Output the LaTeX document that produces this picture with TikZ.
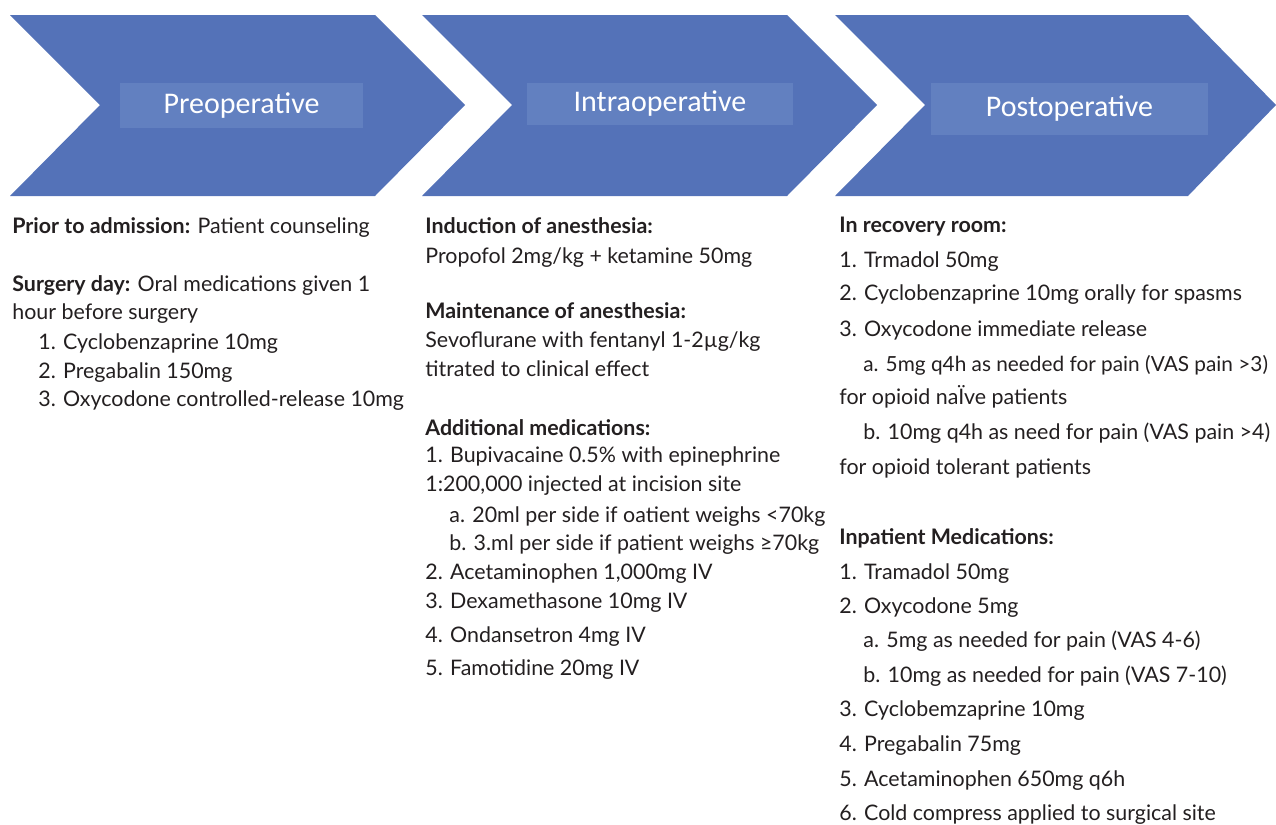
\documentclass[tikz,border=0pt]{standalone}
\usepackage{fontspec}
\usepackage{xcolor}
\usepackage{tikz}
\setmainfont{Lato}
\newfontfamily\titlefont{Carlito}

\definecolor{chevblue}{RGB}{84,114,184}
\definecolor{boxblue}{RGB}{98,128,192}
\definecolor{txtgray}{RGB}{35,31,32}

\tikzset{
  phase/.style={fill=boxblue, text=white, inner sep=0,
    font=\titlefont\fontsize{15}{18}\selectfont},
  entry/.style={anchor=base west, inner sep=0, text=txtgray,
    font=\fontsize{10.7}{13}\selectfont},
}

\begin{document}
\begin{tikzpicture}[x=0.5pt,y=-0.5pt]
    \useasboundingbox (0,0) rectangle (1276,825);
    % chevrons
    \fill[chevblue] (10,15) -- (375,15) -- (465,105) -- (375,196) -- (10,196) -- (100,105) -- cycle;
    \fill[chevblue] (422,15) -- (787,15) -- (877,105) -- (787,196) -- (422,196) -- (512,105) -- cycle;
    \fill[chevblue] (835,15) -- (1188,15) -- (1276,105) -- (1188,196) -- (835,196) -- (925,105) -- cycle;
    \node[phase, minimum width=121.5pt, minimum height=22.5pt] (pre) at (241.5,105.5) {Preoperative};
    \node[phase, minimum width=133pt, minimum height=21pt] (intra) at (660,104) {Intraoperative};
    \node[phase, minimum width=138.5pt, minimum height=26pt] (post) at (1069.5,109) {Postoperative};

    % preoperative
    \node[entry] (pre1) at (12,233) {\textbf{Prior to admission:} Patient counseling};
    \node[entry] (pre2) at (12,291) {\textbf{Surgery day:} Oral medications given 1};
    \node[entry] (pre3) at (12,319) {hour before surgery};
    \node[entry] (pre4) at (38,349) {1. Cyclobenzaprine 10mg};
    \node[entry] (pre5) at (38,378) {2. Pregabalin 150mg};
    \node[entry] (pre6) at (38,406) {3. Oxycodone controlled-release 10mg};

    % intraoperative
    \node[entry] (intra1) at (425,233) {\textbf{Induction of anesthesia:}};
    \node[entry] (intra2) at (425,263) {Propofol 2mg/kg + ketamine 50mg};
    \node[entry] (intra3) at (425,318) {\textbf{Maintenance of anesthesia:}};
    \node[entry] (intra4) at (425,347) {Sevoflurane with fentanyl 1-2µg/kg};
    \node[entry] (intra5) at (425,376) {titrated to clinical effect};
    \node[entry] (intra6) at (425,435) {\textbf{Additional medications:}};
    \node[entry] (intra7) at (425,462) {1. Bupivacaine 0.5\% with epinephrine};
    \node[entry] (intra8) at (425,491) {1:200,000 injected at incision site};
    \node[entry] (intra9) at (449,522) {a. 20ml per side if oatient weighs <70kg};
    \node[entry] (intra10) at (449,550) {b. 3.ml per side if patient weighs ≥70kg};
    \node[entry] (intra11) at (425,579) {2. Acetaminophen 1,000mg IV};
    \node[entry] (intra12) at (425,608) {3. Dexamethasone 10mg IV};
    \node[entry] (intra13) at (425,642) {4. Ondansetron 4mg IV};
    \node[entry] (intra14) at (425,675) {5. Famotidine 20mg IV};

    % postoperative
    \node[entry] (post1) at (839,232) {\textbf{In recovery room:}};
    \node[entry] (post2) at (839,267) {1. Trmadol 50mg};
    \node[entry] (post3) at (839,300) {2. Cyclobenzaprine 10mg orally for spasms};
    \node[entry] (post4) at (839,336) {3. Oxycodone immediate release};
    \node[entry, font=\fontsize{10.4}{13}\selectfont] (post5) at (863,371) {a. 5mg q4h as needed for pain (VAS pain >3)};
    \node[entry] (post6) at (839,404) {for opioid naÏve patients};
    \node[entry] (post7) at (863,439) {b. 10mg q4h as need for pain (VAS pain >4)};
    \node[entry] (post8) at (839,474) {for opioid tolerant patients};
    \node[entry] (post9) at (839,544) {\textbf{Inpatient Medications:}};
    \node[entry] (post10) at (839,579) {1. Tramadol 50mg};
    \node[entry] (post11) at (839,613) {2. Oxycodone 5mg};
    \node[entry] (post12) at (863,647) {a. 5mg as needed for pain (VAS 4-6)};
    \node[entry] (post13) at (863,682) {b. 10mg as needed for pain (VAS 7-10)};
    \node[entry] (post14) at (839,716) {3. Cyclobemzaprine 10mg};
    \node[entry] (post15) at (839,751) {4. Pregabalin 75mg};
    \node[entry] (post16) at (839,786) {5. Acetaminophen 650mg q6h};
    \node[entry] (post17) at (839,820) {6. Cold compress applied to surgical site};
\end{tikzpicture}
\end{document}
